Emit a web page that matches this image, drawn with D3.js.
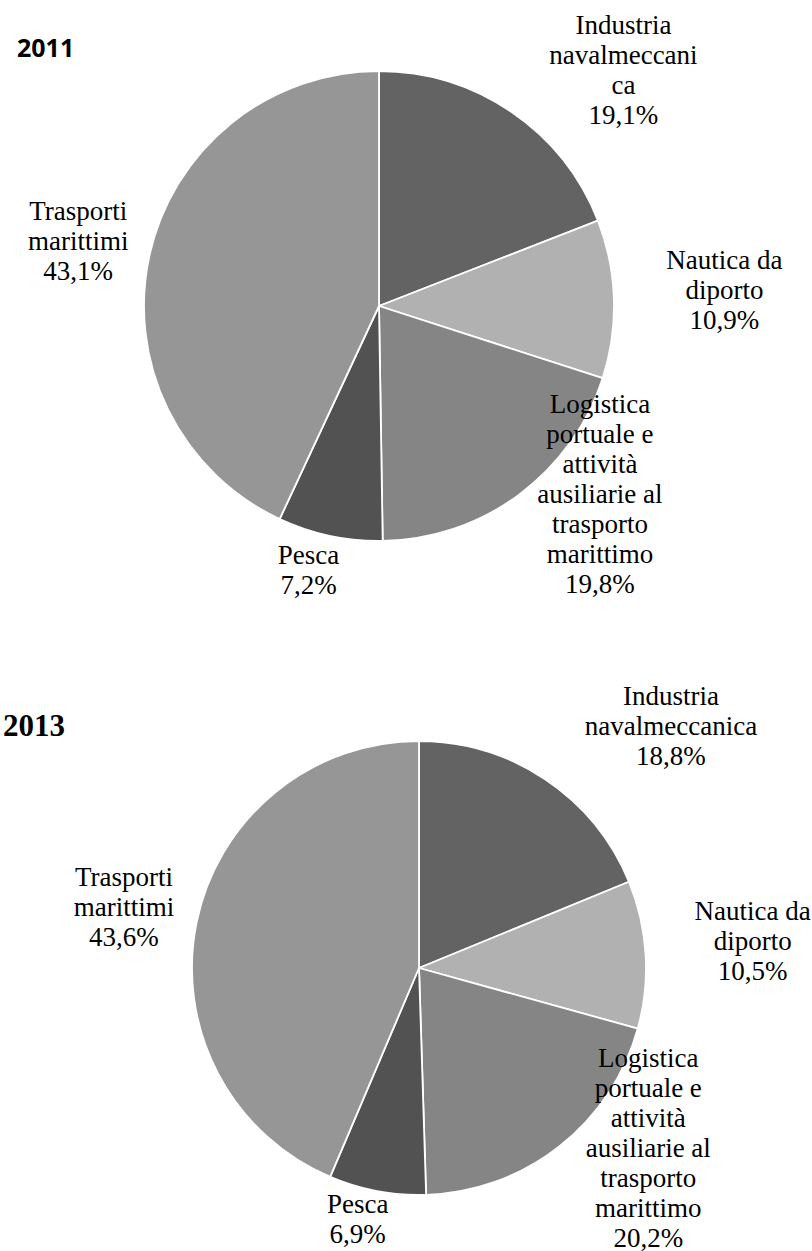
<!DOCTYPE html>
<html>
<head>
<meta charset="utf-8">
<script src="https://cdn.jsdelivr.net/npm/d3@7"></script>
<style>
  html, body { margin: 0; padding: 0; background: #fff; }
  svg { display: block; }
  .lbl { font-family: "Liberation Serif", "Times New Roman", serif; }
</style>
</head>
<body>
<div id="chart"></div>
<script>
// sectors, clockwise from 12 o'clock
const categories = ["Industria navalmeccanica", "Nautica da diporto", "Logistica portuale e attività ausiliarie al trasporto marittimo", "Pesca", "Trasporti marittimi"]
const values2011 = [19.1, 10.9, 19.8, 7.2, 43.1]
const values2013 = [18.8, 10.5, 20.2, 6.9, 43.6]

// wrapped label lines as they appear in each chart
const labelLines2011 = [
    ["Industria", "navalmeccani", "ca"],
    ["Nautica da", "diporto"],
    ["Logistica", "portuale e", "attività", "ausiliarie al", "trasporto", "marittimo"],
    ["Pesca"],
    ["Trasporti", "marittimi"]
]
const labelLines2013 = [
    ["Industria", "navalmeccanica"],
    ["Nautica da", "diporto"],
    ["Logistica", "portuale e", "attività", "ausiliarie al", "trasporto", "marittimo"],
    ["Pesca"],
    ["Trasporti", "marittimi"]
]

const colors = ["#636363", "#b1b1b1", "#858585", "#525252", "#969696"]

const width = 812, height = 1251
const lineStep = 30

const fmt = v => d3.format(".1f")(v).replace(".", ",") + "%"

const svg = d3.select("#chart").append("svg")
    .attr("width", width)
    .attr("height", height)

/**
 * draws one pie with its outside labels
 * labelAt: label block centre, in radius units from the pie centre
 */
function drawPie(opts) {
    const { values, lines, cx, cy, r, labelAt, title } = opts

    const pie = d3.pie().sort(null).value(d => d)
    const arc = d3.arc().innerRadius(0).outerRadius(r)

    const g = svg.append("g").attr("transform", `translate(${cx},${cy})`)

    g.selectAll("path")
        .data(pie(values))
        .join("path")
        .attr("d", arc)
        .attr("fill", (d, i) => colors[i])
        .attr("stroke", "#fff")
        .attr("stroke-width", 1.8)
        .attr("stroke-linejoin", "round")

    const labels = g.selectAll("text.lbl")
        .data(values)
        .join("text")
        .attr("class", "lbl")
        .attr("text-anchor", "middle")
        .style("font-size", "27px")
        .attr("fill", "#000")

    labels.each(function (v, i) {
        const rows = lines[i].concat([fmt(v)])
        const x = labelAt[i][0] * r
        const y0 = labelAt[i][1] * r - (rows.length - 1) * lineStep / 2
        d3.select(this).selectAll("tspan")
            .data(rows)
            .join("tspan")
            .attr("x", x)
            .attr("y", (d, k) => y0 + k * lineStep)
            .attr("dy", "0.35em")
            .text(d => d)
    })

    svg.append("text")
        .attr("x", title.x)
        .attr("y", title.y)
        .style("font-family", title.font)
        .style("font-weight", "bold")
        .style("font-size", title.size + "px")
        .attr("dy", "0.35em")
        .text(title.text)
}

drawPie({
    values: values2011,
    lines: labelLines2011,
    cx: 379, cy: 306, r: 235,
    labelAt: [[1.04, -1.005], [1.47, -0.07], [0.94, 0.80], [-0.30, 1.12], [-1.28, -0.28]],
    title: { text: "2011", x: 17, y: 48, size: 25, font: "'Open Sans', sans-serif" }
})

drawPie({
    values: values2013,
    lines: labelLines2013,
    cx: 419, cy: 968, r: 227,
    labelAt: [[1.11, -1.07], [1.47, -0.12], [1.01, 0.79], [-0.27, 1.105], [-1.30, -0.27]],
    title: { text: "2013", x: 3, y: 725, size: 31, font: "'Liberation Serif', 'Times New Roman', serif" }
})
</script>
</body>
</html>
